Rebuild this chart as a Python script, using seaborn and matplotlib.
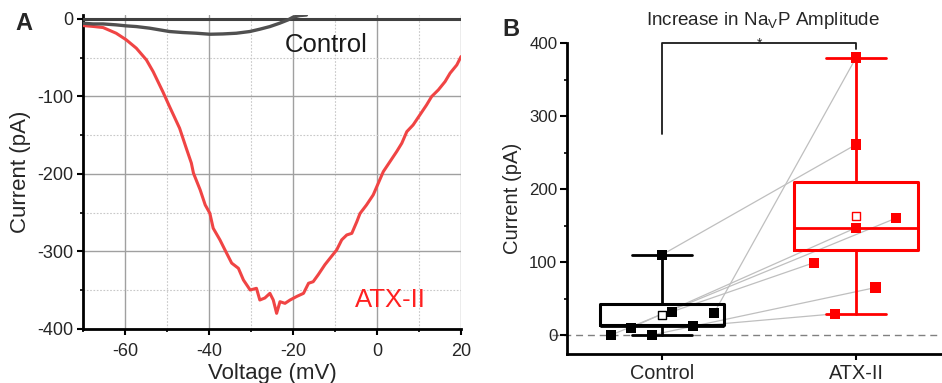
import numpy as np
import pandas as pd
import matplotlib
matplotlib.use("Agg")
import matplotlib.pyplot as plt
import seaborn as sns
from matplotlib.ticker import MultipleLocator

# ---------------- Panel A data ----------------
atx_voltage = [-70, -67.5, -65.2, -62.1, -59.7, -57.3, -54.9, -53.3, -51.0, -49.4,
               -47.0, -45.4, -44.2, -43.7, -42.1, -40.9, -39.8, -39.0, -37.4, -36.2,
               -34.6, -33.0, -31.8, -30.2, -28.7, -27.9, -26.7, -25.5, -24.7, -23.9,
               -23.1, -21.9, -20.7, -19.1, -17.5, -16.3, -15.2, -14.0, -12.4, -11.2,
               -9.6, -8.4, -7.2, -6.0, -4.8, -4.05, -2.5, -0.9, 0.3, 1.5,
               3.1, 4.7, 5.9, 7.1, 8.6, 10.2, 11.8, 13.0, 14.6, 16.2,
               17.4, 19.0, 20.0]
atx_current = [-8.6, -9.8, -11.2, -18.5, -27.0, -37.8, -52.9, -68.0, -93.8, -113.0,
               -141.0, -167.0, -186.0, -199.0, -220.6, -240.0, -250.7, -270.0, -285.0, -298.0,
               -315.0, -321.7, -336.8, -349.7, -347.5, -362.6, -360.0, -354.0, -362.6, -379.8,
               -364.8, -366.9, -362.6, -358.0, -354.0, -341.0, -339.0, -330.0, -317.0, -308.8,
               -298.0, -285.0, -278.7, -276.6, -261.5, -251.0, -240.0, -227.0, -212.0, -197.0,
               -184.0, -171.0, -160.4, -145.4, -136.8, -123.9, -111.0, -100.2, -91.6, -80.9,
               -70.0, -59.4, -48.6]

ctrl_voltage = [-70, -67.6, -65.2, -62.1, -59.7, -57.3, -54.1, -51.7, -49.4, -46.2,
                -43.0, -39.8, -36.7, -33.5, -30.3, -27.9, -25.5, -23.2, -21.2, -20.0,
                -18.4, -16.8]
ctrl_current = [-5.6, -6.5, -6.5, -7.7, -9.0, -9.9, -12.0, -14.2, -16.3, -17.6,
                -18.5, -19.8, -19.4, -18.5, -16.3, -13.3, -9.9, -5.6, -1.3, 2.2,
                4.3, 5.0]

# ---------------- Panel B data ----------------
groups = ["Control", "ATX-II"]
control_amp = [0, 10, 0, 110, 32, 12, 30]
atx_amp = [160, 147, 65, 261, 99, 29, 380]      # paired with control_amp by index
# horizontal scatter offsets of the points (layout)
control_offset = [-0.263, -0.16, -0.052, 0.0, 0.052, 0.16, 0.268]
atx_offset = [0.205, 0.0, 0.10, 0.0, -0.218, -0.11, 0.0]

# significance bracket
sig_left_bottom = 275
sig_top = 400
sig_right_bottom = 392

# ---------------- style ----------------
sns.set_theme(style="white")
plt.rcParams['font.family'] = ['Liberation Sans', 'DejaVu Sans']
plt.rcParams['axes.unicode_minus'] = False
plt.rcParams['mathtext.default'] = 'regular'

fig = plt.figure(figsize=(9.42, 3.83), dpi=100)
axA = fig.add_axes([0.0881, 0.141, 0.4013, 0.8198])
axB = fig.add_axes([0.6019, 0.0757, 0.3975, 0.812])

# ---------------- Panel A ----------------
dfa = pd.DataFrame({"Voltage": atx_voltage, "Current": atx_current})
dfc = pd.DataFrame({"Voltage": ctrl_voltage, "Current": ctrl_current})
sns.lineplot(data=dfa, x="Voltage", y="Current", ax=axA, color="#F04444",
             lw=2.2, sort=False, estimator=None, zorder=4)
sns.lineplot(data=dfc, x="Voltage", y="Current", ax=axA, color="#505050",
             lw=2.4, sort=False, estimator=None, zorder=4)

axA.set_xlim(-70, 20)
axA.set_ylim(-400, 5)
axA.xaxis.set_major_locator(MultipleLocator(20))
axA.xaxis.set_minor_locator(MultipleLocator(10))
axA.yaxis.set_major_locator(MultipleLocator(100))
axA.yaxis.set_minor_locator(MultipleLocator(50))
axA.grid(which='major', color='#a0a0a0', lw=1.0, ls='-')
axA.grid(which='minor', color='#c8c8c8', lw=0.8, ls=(0, (1.5, 1.5)))
axA.set_axisbelow(True)
axA.axhline(0, color='#404040', lw=2.2, zorder=3)
for s in ['top', 'right']:
    axA.spines[s].set_visible(False)
for s in ['left', 'bottom']:
    axA.spines[s].set_color('black')
    axA.spines[s].set_linewidth(2.0)
axA.tick_params(which='major', direction='out', length=4, width=1.5, labelsize=13,
                pad=3, color='black', left=True, bottom=True)
axA.tick_params(which='minor', direction='out', length=2, width=1.2, color='black',
                left=True, bottom=True)
axA.tick_params(axis='x', which='major', pad=6)
axA.set_xlabel("Voltage (mV)", fontsize=16)
axA.set_ylabel("Current (pA)", fontsize=16)
axA.xaxis.set_label_coords(0.5, -0.108)
axA.yaxis.set_label_coords(-0.137, 0.5)
axA.text(-21.9, -33.5, "Control", fontsize=18.5, color='#1a1a1a', ha='left', va='center')
axA.text(-5.2, -362.6, "ATX-II", fontsize=18.5, color='#FF2020', ha='left', va='center')

# ---------------- Panel B ----------------
colors = ['black', '#FF0000']
series = [control_amp, atx_amp]
offsets = [control_offset, atx_offset]

# paired lines
rows = []
for i in range(len(control_amp)):
    rows.append({"pair": i, "x": 0 + control_offset[i], "y": control_amp[i]})
    rows.append({"pair": i, "x": 1 + atx_offset[i], "y": atx_amp[i]})
dfl = pd.DataFrame(rows)
sns.lineplot(data=dfl, x="x", y="y", units="pair", estimator=None, sort=False,
             color='#bfbfbf', lw=0.9, ax=axB, zorder=1)

# boxes: mean +/- SE, median line, whiskers min-max
for k, vals in enumerate(series):
    a = np.asarray(vals, dtype=float)
    m = a.mean()
    se = a.std(ddof=1) / np.sqrt(len(a))
    st = dict(med=np.median(a), q1=m - se, q3=m + se, whislo=a.min(), whishi=a.max(),
              mean=m, fliers=[])
    c = colors[k]
    axB.bxp([st], positions=[k], widths=0.64, capwidths=0.31, showfliers=False,
            boxprops=dict(color=c, lw=2.2), whiskerprops=dict(color=c, lw=2.0),
            capprops=dict(color=c, lw=2.0), medianprops=dict(color=c, lw=2.0),
            manage_ticks=False, zorder=2)
    xs = [k + o for o in offsets[k]]
    sns.scatterplot(x=xs, y=a, marker='s', s=55, color=c, edgecolor='none',
                    ax=axB, zorder=3, legend=False)
    sns.scatterplot(x=[k], y=[m], marker='s', s=32, facecolor='white', edgecolor=c,
                    linewidth=1.0, ax=axB, zorder=4, legend=False)

axB.axhline(0, color='#808080', lw=1.0, ls=(0, (5, 3.5)), zorder=0,
            xmin=-0.04, clip_on=False)
axB.plot([0, 0, 1, 1], [sig_left_bottom, sig_top, sig_top, sig_right_bottom],
         color='#1a1a1a', lw=1.3, clip_on=False, zorder=5)
axB.text(0.5, 393, "*", ha='center', va='baseline', fontsize=10)

axB.set_xlim(-0.49, 1.44)
axB.set_ylim(-26, 400)
axB.set_xticks([0, 1])
axB.set_xticklabels(groups)
axB.yaxis.set_major_locator(MultipleLocator(100))
axB.yaxis.set_minor_locator(MultipleLocator(50))
for s in ['top', 'right']:
    axB.spines[s].set_visible(False)
for s in ['left', 'bottom']:
    axB.spines[s].set_color('black')
    axB.spines[s].set_linewidth(2.0)
axB.tick_params(axis='y', which='major', direction='out', length=5, width=1.5,
                labelsize=12.2, pad=2, color='black', left=True)
axB.tick_params(axis='y', which='minor', direction='out', length=2.5, width=1.2,
                color='black', left=True)
axB.tick_params(axis='x', which='major', direction='out', length=4, width=1.5,
                labelsize=14.3, pad=3, color='black', bottom=True)
axB.set_xlabel("")
axB.set_ylabel("Current (pA)", fontsize=14.6)
axB.yaxis.set_label_coords(-0.12, 0.5)

fig.text(763 / 942, 1 - 20.7 / 383, "Increase in Na$_V$P Amplitude", fontsize=13.6,
         ha='center', va='center')
fig.text(24 / 942, 1 - 24 / 383, "A", fontsize=17, fontweight='bold', ha='center', va='center')
fig.text(511 / 942, 1 - 29 / 383, "B", fontsize=17, fontweight='bold', ha='center', va='center')

fig.savefig("out.png", dpi=100)
